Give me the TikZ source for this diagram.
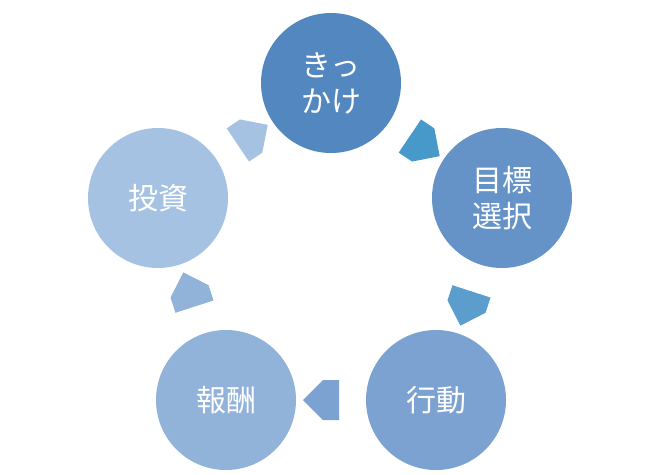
\documentclass[tikz,border=0pt]{standalone}
\usepackage{fontspec}
\newfontfamily\cjk{Noto Sans CJK JP}
\usetikzlibrary{shapes,arrows,calc}
\definecolor{cA}{HTML}{5287C0}
\definecolor{cB}{HTML}{6593C8}
\definecolor{cC}{HTML}{7BA2D0}
\definecolor{cD}{HTML}{91B2D9}
\definecolor{cE}{HTML}{A6C2E2}
\tikzstyle{stage} = [circle, minimum size=140pt, inner sep=0pt, text=white,
    align=center, font=\cjk\fontsize{30}{36}\selectfont]
\tikzstyle{turn} = [single arrow, minimum height=36pt, minimum width=40pt,
    single arrow head extend=0pt, inner sep=0pt, single arrow tip angle=90]
\begin{document}
\begin{tikzpicture}[x=1pt,y=-1pt]
    \useasboundingbox (0,0) rectangle (661,474);
    % Place nodes
    \node [stage, fill=cA] (kikkake) at (331,83) {きっ\\かけ};
    \node [stage, fill=cB] (mokuhyo) at (502,198) {目標\\選択};
    \node [stage, fill=cC] (kodo) at (436,400) {行動};
    \node [stage, fill=cD] (hoshu) at (226,400) {報酬};
    \node [stage, fill=cE] (toshi) at (158,198) {投資};

    % Draw arrows
    \node [turn, fill=cA!85!cyan, rotate=-34] (a1) at ($(kikkake)!0.5!(mokuhyo)$) {};
    \node [turn, fill=cB!90!cyan, rotate=-108] (a2) at ($(mokuhyo)!0.5!(kodo)$) {};
    \node [turn, fill=cC, rotate=180] (a3) at ($(kodo)!0.5!(hoshu)$) {};
    \node [turn, fill=cD, rotate=108] (a4) at ($(hoshu)!0.5!(toshi)$) {};
    \node [turn, fill=cE, rotate=34] (a5) at ($(toshi)!0.5!(kikkake)$) {};
\end{tikzpicture}
\end{document}
